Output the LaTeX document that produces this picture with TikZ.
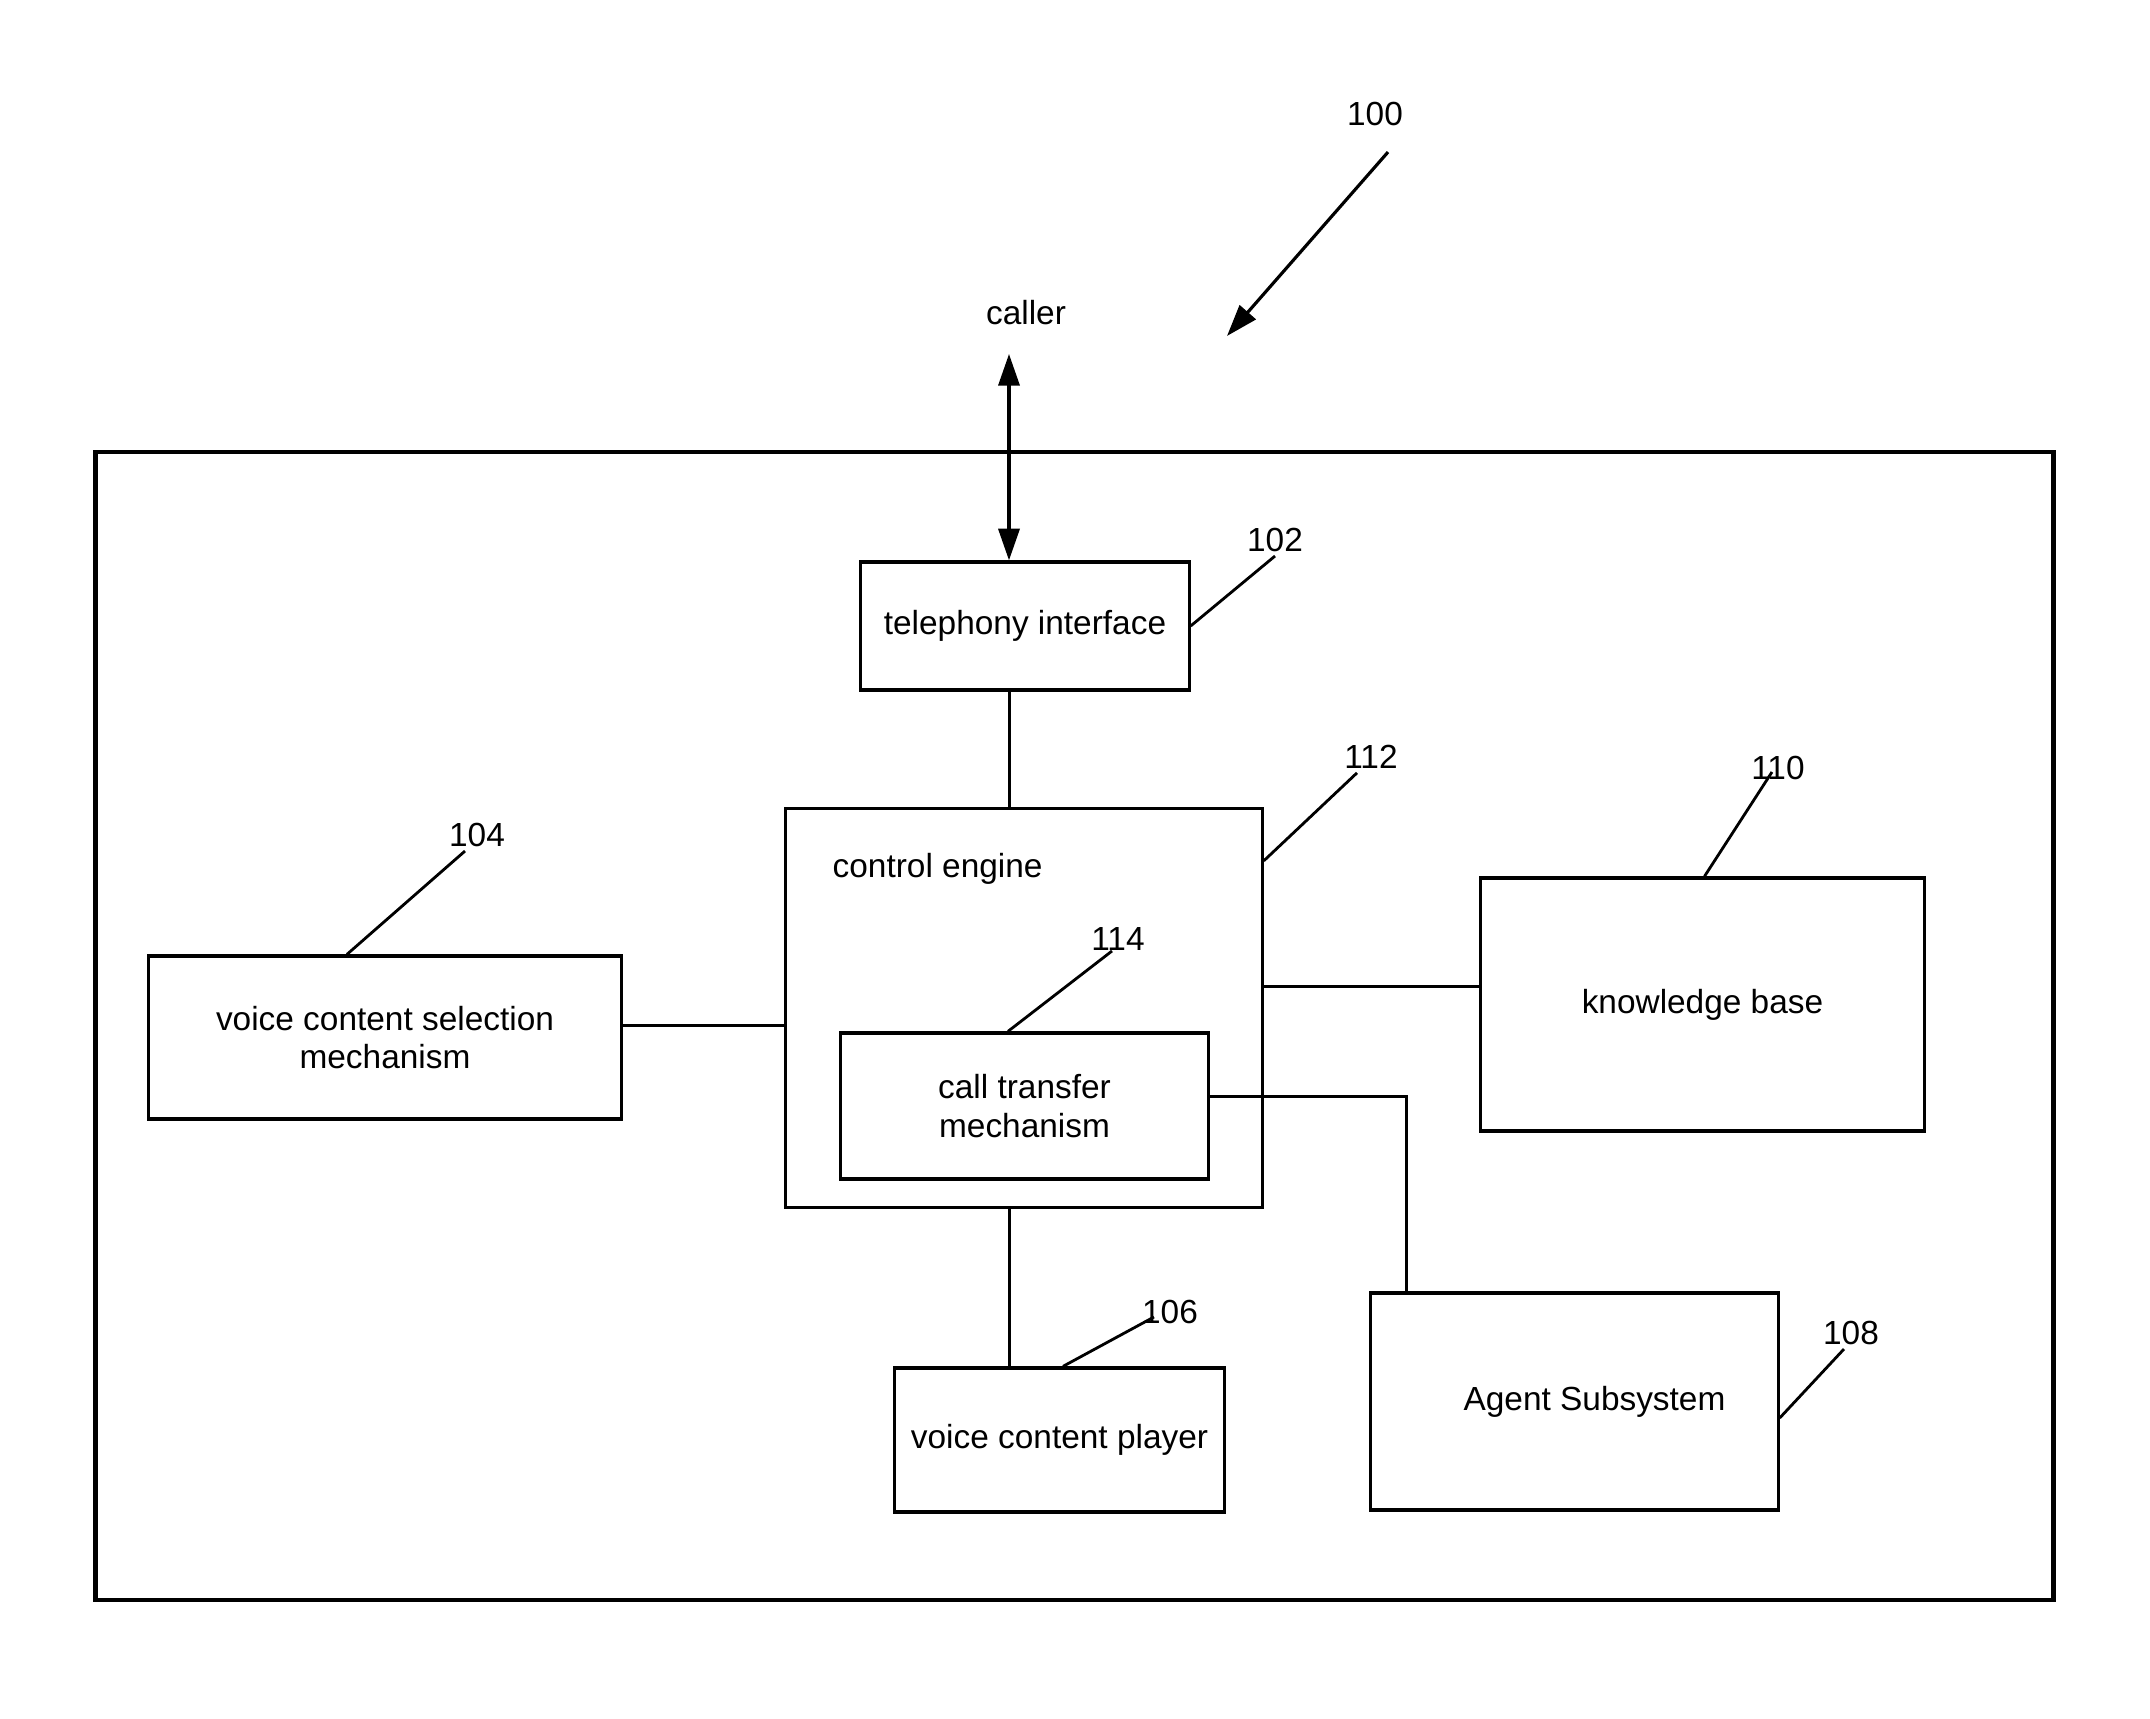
\documentclass[tikz,border=0pt]{standalone}
\usepackage{fontspec}
\setmainfont{Liberation Sans}
\usetikzlibrary{arrows.meta}

\begin{document}
\begin{tikzpicture}[
    x=0.01cm, y=-0.01cm,
    font=\fontsize{9.5}{11}\selectfont,
    block/.style={draw, line width=0.9pt, align=center, inner sep=0pt},
    tag/.style={inner sep=1pt},
    wire/.style={line width=0.85pt},
    lead/.style={line width=0.8pt},
    ptr/.style={-{Triangle[length=9pt,width=6pt]}, line width=0.9pt},
    dbl/.style={{Triangle[length=9pt,width=6pt]}-{Triangle[length=9pt,width=6pt]}, line width=0.9pt}
  ]
    \useasboundingbox (0,0) rectangle (2150,1719);

    \node[draw, line width=1.2pt, minimum width=19.57cm, minimum height=11.48cm] (system) at (1074.5,1026) {};

    \node[block, minimum width=3.28cm, minimum height=1.28cm] (tel) at (1025,626) {telephony interface};
    \node[block, minimum width=4.76cm, minimum height=3.98cm] (ctrl) at (1024,1008) {};
    \node[anchor=west, inner sep=0pt] (ctrltext) at (832,869) {control engine};
    \node[block, minimum width=3.67cm, minimum height=1.46cm] (ct) at (1024.5,1106) {call transfer\\mechanism};
    \node[block, minimum width=4.72cm, minimum height=1.63cm] (vcs) at (385,1037.5) {voice content selection\\mechanism};
    \node[block, minimum width=4.43cm, minimum height=2.53cm] (kb) at (1702.5,1004.5) {knowledge base};
    \node[block, minimum width=3.29cm, minimum height=1.44cm] (vcp) at (1059.5,1440) {voice content player};
    \node[block, minimum width=4.07cm, minimum height=2.17cm] (agent) at (1574.5,1401.5) {\hspace*{0.4cm}Agent Subsystem};

    \node (caller) at (1026,313) {caller};
    \coordinate (callerend) at (1009,354);
    \draw[dbl] (callerend) -- (callerend |- tel.north);
    \draw[wire] (callerend |- tel.south) -- (callerend |- ctrl.north);
    \draw[wire] ([yshift=0.115cm]vcs.east) -- ([yshift=0.115cm]vcs.east -| ctrl.west);
    \draw[wire] ([yshift=0.175cm]kb.west) -- ([yshift=0.175cm]kb.west -| ctrl.east);
    \draw[wire] ([yshift=0.09cm]ct.east) -| ([xshift=-1.675cm]agent.north);
    \draw[wire] (callerend |- ctrl.south) -- (callerend |- vcp.north);

    \node[tag] (ref100) at (1375,114) {100};
    \coordinate (sysptr) at (1227,336);
    \draw[ptr] ([xshift=0.13cm,yshift=-0.22cm]ref100.south) -- (sysptr);

    \node[tag] (ref102) at (1275,540) {102};
    \node[tag] (ref112) at (1371,757) {112};
    \node[tag] (ref110) at (1778,768) {110};
    \node[tag] (ref104) at (477,835) {104};
    \node[tag] (ref114) at (1118,939) {114};
    \node[tag] (ref106) at (1170,1312) {106};
    \node[tag] (ref108) at (1851,1333) {108};

    \draw[lead] (tel.east) -- (ref102.south);
    \draw[lead] ([yshift=1.47cm]ctrl.east) -- ([xshift=-0.14cm]ref112.south);
    \draw[lead] ([xshift=0.02cm]kb.north) -- ([xshift=-0.06cm,yshift=-0.04cm]ref110.center);
    \draw[lead] ([xshift=-0.38cm]vcs.north) -- ([xshift=-0.12cm]ref104.south);
    \draw[lead] ([xshift=-0.165cm]ct.north) -- ([xshift=-0.06cm,yshift=-0.12cm]ref114.center);
    \draw[lead] ([xshift=0.035cm]vcp.north) -- ([xshift=-0.16cm,yshift=-0.05cm]ref106.center);
    \draw[lead] ([yshift=-0.165cm]agent.east) -- ([xshift=-0.07cm]ref108.south);
\end{tikzpicture}
\end{document}
